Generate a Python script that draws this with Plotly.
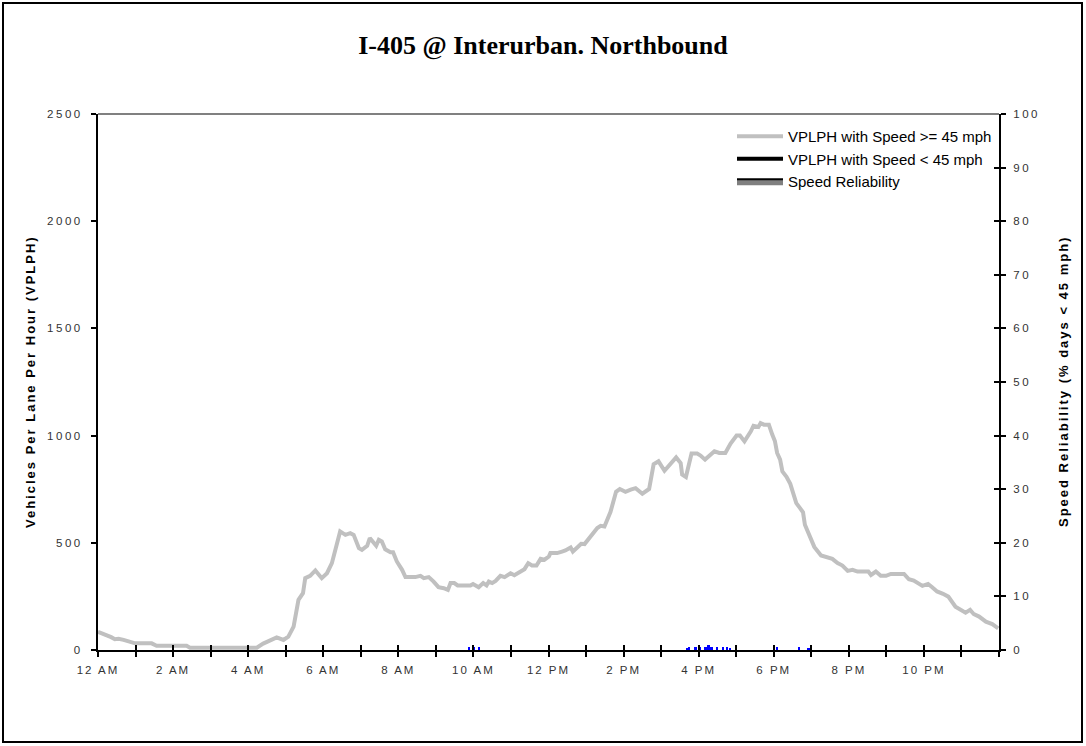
import plotly.graph_objects as go

# ---- data (hours after midnight, VPLPH) ----
hours = [0.00, 0.12, 0.23, 0.35, 0.45, 0.55, 0.68, 0.85, 0.99, 1.20, 1.43, 1.56, 2.00, 2.36, 2.45,
         3.00, 3.50, 4.00, 4.23, 4.40, 4.59, 4.76, 4.94, 5.07, 5.21, 5.34, 5.46, 5.52, 5.65, 5.79,
         5.96, 6.10, 6.23, 6.36, 6.45, 6.59, 6.72, 6.81, 6.95, 7.03, 7.17, 7.24, 7.34, 7.41, 7.48,
         7.56, 7.65, 7.79, 7.86, 7.96, 8.10, 8.19, 8.45, 8.59, 8.68, 8.81, 8.94, 9.07, 9.21, 9.32,
         9.39, 9.49, 9.58, 9.92, 9.99, 10.14, 10.26, 10.35, 10.41, 10.50, 10.59, 10.72, 10.83, 10.99,
         11.09, 11.23, 11.36, 11.46, 11.56, 11.68, 11.79, 11.89, 12.01, 12.05, 12.23, 12.36, 12.45,
         12.59, 12.65, 12.78, 12.87, 12.96, 13.05, 13.16, 13.30, 13.39, 13.49, 13.65, 13.80, 13.90,
         14.05, 14.19, 14.32, 14.50, 14.68, 14.80, 14.93, 15.09, 15.24, 15.40, 15.52, 15.56, 15.66,
         15.81, 15.96, 16.05, 16.17, 16.29, 16.42, 16.55, 16.71, 16.85, 17.01, 17.10, 17.22, 17.39,
         17.46, 17.59, 17.65, 17.74, 17.87, 17.96, 18.03, 18.09, 18.17, 18.23, 18.34, 18.44, 18.49,
         18.60, 18.70, 18.78, 18.83, 18.95, 19.08, 19.26, 19.41, 19.56, 19.70, 19.83, 19.97, 20.10,
         20.23, 20.52, 20.59, 20.72, 20.85, 20.99, 21.12, 21.47, 21.60, 21.73, 21.96, 22.11, 22.22,
         22.35, 22.51, 22.65, 22.84, 23.01, 23.11, 23.23, 23.33, 23.47, 23.65, 23.82, 23.98]
vplph_fast = [85, 78, 70, 60, 50, 52, 47, 38, 31, 31, 31, 20, 20, 20, 11,
              11, 11, 11, 11, 30, 44, 59, 47, 62, 109, 234, 265, 335, 346, 371,
              335, 358, 405, 483, 553, 537, 545, 537, 475, 467, 486, 522, 498, 486, 514,
              506, 470, 456, 456, 413, 374, 340, 340, 346, 335, 340, 319, 293, 288, 280,
              312, 312, 301, 301, 308, 293, 312, 301, 319, 312, 322, 346, 340, 358,
              349, 366, 377, 405, 394, 394, 425, 421, 436, 452, 452, 459, 464,
              478, 459, 480, 495, 494, 514, 534, 569, 579, 576, 643, 738, 751,
              738, 748, 755, 729, 751, 866, 880, 836, 869, 898, 872, 818, 807,
              916, 916, 907, 888, 907, 927, 919, 919, 963, 1000, 1000, 973, 1020,
              1046, 1040, 1058, 1051, 1051, 1005, 975, 919, 888, 833, 808, 775, 748,
              685, 662, 642, 584, 535, 481, 441, 432, 425, 405, 394, 369, 374,
              366, 366, 350, 366, 346, 346, 355, 355, 330, 324, 299, 308, 293,
              273, 262, 249, 202, 182, 174, 187, 167, 156, 132, 121, 101]

# speed reliability (% days < 45 mph)
rel_hours = [9.89, 10.01, 10.16, 15.70, 15.74, 15.92, 16.05, 16.19, 16.27, 16.35, 16.50, 16.66,
             16.77, 16.85, 18.10, 18.67, 18.93]
rel_values = [0.6, 0.6, 0.6, 0.4, 0.6, 0.6, 0.6, 0.6, 1.0, 0.6, 0.6, 0.6, 0.6, 0.4, 0.6, 0.6, 0.4]

tick_hours = list(range(0, 25))
tick_text = ["12 AM", "", "2 AM", "", "4 AM", "", "6 AM", "", "8 AM", "", "10 AM", "",
             "12 PM", "", "2 PM", "", "4 PM", "", "6 PM", "", "8 PM", "", "10 PM", "", ""]

fig = go.Figure()

fig.add_trace(go.Scatter(x=hours, y=vplph_fast, mode="lines",
                         line=dict(color="#C0C0C0", width=4),
                         name="VPLPH with Speed >= 45 mph", yaxis="y"))
fig.add_trace(go.Scatter(x=[None], y=[None], mode="lines",
                         line=dict(color="#000000", width=4),
                         name="VPLPH with Speed < 45 mph", yaxis="y"))
fig.add_trace(go.Scatter(x=[None], y=[None], mode="lines", fill="toself",
                         fillcolor="#808080", line=dict(color="#000000", width=2),
                         name="Speed Reliability", yaxis="y2"))
fig.add_trace(go.Bar(x=rel_hours, y=rel_values, width=0.045,
                     marker=dict(color="#0000FF", line=dict(width=0)),
                     showlegend=False, yaxis="y2", hoverinfo="skip"))

tickfont = dict(family="Liberation Sans", size=11.5, color="#333333")

PW, PH = 901, 536   # plot area size in px
L, T = 98, 114

fig.update_layout(
    width=1086, height=746,
    margin=dict(l=L, r=1086 - L - PW, t=T, b=746 - T - PH),
    paper_bgcolor="white", plot_bgcolor="white",
    title=dict(text="<b>I-405 @ Interurban. Northbound</b>",
               font=dict(family="Liberation Serif", size=26, color="black"),
               x=0.5, xanchor="center", y=1 - 45 / 746, yanchor="middle"),
    showlegend=True,
    legend=dict(x=(732 - L) / PW, y=(T + PH - 120) / PH, xanchor="left", yanchor="top",
                font=dict(family="Liberation Sans", size=15, color="black"),
                bgcolor="rgba(0,0,0,0)", tracegroupgap=0, itemwidth=46),
    bargap=0,
    xaxis=dict(range=[0, 24], tickvals=tick_hours, ticktext=tick_text,
               showgrid=False, zeroline=False, showline=True, linecolor="black", linewidth=2,
               ticks="outside", ticklen=5, tickwidth=2, tickcolor="black",
               tickfont=tickfont, ticklabelstandoff=3),
    xaxis2=dict(range=[0, 24], overlaying="x", anchor="y", tickvals=tick_hours,
                showticklabels=False, showgrid=False, zeroline=False, showline=False,
                ticks="inside", ticklen=5, tickwidth=2, tickcolor="black"),
    yaxis=dict(range=[0, 2500], dtick=500, showgrid=False, zeroline=False,
               showline=True, linecolor="black", linewidth=2,
               ticks="outside", ticklen=5, tickwidth=2, tickcolor="black",
               tickfont=tickfont, ticklabelstandoff=6),
    yaxis2=dict(range=[0, 100], dtick=10, overlaying="y", side="right", anchor="x",
                showgrid=False, zeroline=False, showline=True, linecolor="black", linewidth=2,
                ticks="outside", ticklen=5, tickwidth=2, tickcolor="black",
                tickfont=tickfont, ticklabelstandoff=5),
    yaxis3=dict(range=[0, 100], dtick=10, overlaying="y", side="right", anchor="x",
                showgrid=False, zeroline=False, showline=False, showticklabels=False,
                ticks="inside", ticklen=5, tickwidth=2, tickcolor="black"),
    shapes=[
        dict(type="line", xref="paper", yref="paper", x0=0, x1=1, y0=1, y1=1,
             line=dict(color="#808080", width=2)),
        dict(type="rect", xref="paper", yref="paper",
             x0=(3 - L) / PW, x1=(1082 - L) / PW,
             y0=(T + PH - 742) / PH, y1=(T + PH - 3) / PH,
             line=dict(color="black", width=2)),
    ],
    annotations=[
        dict(text="<b>Vehicles Per Lane Per Hour (VPLPH)</b>", xref="paper", yref="paper",
             x=(30 - L) / PW, y=0.5, textangle=-90, showarrow=False,
             xanchor="center", yanchor="middle",
             font=dict(family="Liberation Sans", size=13, color="black")),
        dict(text="<b>Speed Reliability (% days < 45 mph)</b>", xref="paper", yref="paper",
             x=(1063 - L) / PW, y=0.5, textangle=-90, showarrow=False,
             xanchor="center", yanchor="middle",
             font=dict(family="Liberation Sans", size=13, color="black")),
    ],
)

# invisible trace to instantiate overlay axes
fig.add_trace(go.Scatter(x=[0], y=[0], xaxis="x2", yaxis="y3", mode="markers",
                         marker=dict(opacity=0), showlegend=False, hoverinfo="skip"))

post = """
document.body.style.margin = '0';
var s = document.createElement('style');
s.innerHTML = '.xtick text{letter-spacing:2px} .ytick text, .y2tick text{letter-spacing:2.5px} .annotation-text{letter-spacing:2px}';
document.head.appendChild(s);
"""

fig.write_html("out.html", post_script=post, config={"displayModeBar": False})
